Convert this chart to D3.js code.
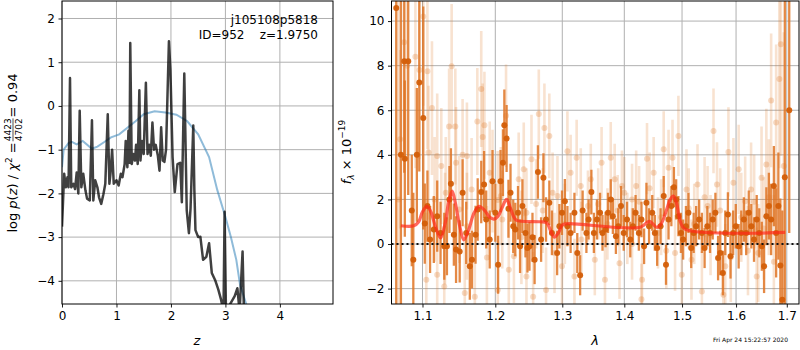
<!DOCTYPE html>
<html><head><meta charset="utf-8">
<script src="https://cdn.jsdelivr.net/npm/d3@7"></script>
<style>body{margin:0;background:#fff}svg{display:block}text{font-family:"DejaVu Sans",sans-serif}</style>
</head><body><svg id="c" width="800" height="350"></svg>
<script>
// ---------- DATA ----------
// left panel: log p(z) (dark) and chi2 curve (blue)
const pzLine = [[0.0,-2.76],[0.04,-1.55],[0.07,-1.86],[0.10,-1.63],[0.12,-1.86],[0.147,0.64],[0.17,-1.86],[0.21,-1.78],[0.24,-1.9],[0.27,-1.52],[0.30,-2.0],[0.325,-0.11],[0.355,-1.86],[0.39,-1.55],[0.43,-1.93],[0.46,-2.12],[0.51,-2.16],[0.55,-0.33],[0.575,-2.16],[0.61,-1.7],[0.65,-1.86],[0.68,-2.09],[0.72,-2.24],[0.76,-2.02],[0.795,-1.78],[0.84,-0.19],[0.87,-1.78],[0.89,-1.55],[0.92,-1.0],[0.95,-1.78],[1.0,-1.7],[1.04,-1.82],[1.08,-1.55],[1.11,-1.63],[1.15,-1.33],[1.17,-0.8],[1.20,-1.4],[1.22,-0.57],[1.24,-1.3],[1.253,1.44],[1.28,-1.33],[1.31,-1.1],[1.34,-1.25],[1.36,-0.89],[1.39,-1.33],[1.42,0.36],[1.44,-1.25],[1.47,-0.8],[1.50,-1.1],[1.54,0.53],[1.57,-1.1],[1.60,-0.89],[1.63,-1.14],[1.66,-0.38],[1.69,-1.0],[1.72,-0.89],[1.76,-1.14],[1.79,-1.48],[1.82,-0.49],[1.85,-1.25],[1.88,-1.28],[1.91,-1.0],[1.963,1.48],[1.99,0.83],[2.03,-1.17],[2.07,-1.97],[2.12,-1.33],[2.17,-1.3],[2.20,-2.2],[2.245,0.74],[2.29,-2.39],[2.33,-2.91],[2.36,-2.34],[2.41,-0.45],[2.43,-1.93],[2.45,-2.84],[2.50,-3.0],[2.54,-2.99],[2.59,-3.52],[2.65,-3.45],[2.70,-3.14],[2.75,-3.82],[2.81,-3.98],[2.87,-4.2],[2.92,-4.43],[2.965,-4.7],[2.985,-2.42],[3.01,-4.7],[3.17,-4.35],[3.22,-4.17],[3.26,-4.7],[3.315,-3.33],[3.34,-4.7]];
const chiLine = [[0.0,-1.4],[0.03,-1.0],[0.12,-0.85],[0.18,-0.82],[0.27,-0.88],[0.38,-0.8],[0.55,-0.98],[0.65,-0.93],[0.77,-0.83],[0.9,-0.72],[1.05,-0.65],[1.2,-0.5],[1.35,-0.35],[1.5,-0.19],[1.7,-0.12],[1.9,-0.15],[2.1,-0.2],[2.3,-0.35],[2.5,-0.65],[2.7,-1.17],[2.85,-1.92],[3.0,-2.54],[3.1,-3.0],[3.2,-3.52],[3.27,-4.1],[3.4,-4.6]];
const leftXTicks = [0,1,2,3,4];
const leftYTicks = [-4,-3,-2,-1,0,1,2];
// right panel: [lambda, flux, err]
const specBest = [[1.066,10.59,20],[1.072,4.0,12],[1.0763,8.2,5],[1.077,3.83,3.5],[1.0814,8.2,6],[1.086,1.5,2.5],[1.088,-0.7,3],[1.0926,4.0,3],[1.0958,7.25,4],[1.101,5.65,5],[1.103,0.92,1.8],[1.1065,1.7,1.6],[1.110,0.2,1.5],[1.115,0.65,1.5],[1.1195,1.25,1.6],[1.124,0.5,1.4],[1.129,-0.1,1.5],[1.1326,-0.1,1.3],[1.136,2.0,1.5],[1.138,2.7,1.6],[1.142,0.42,1.4],[1.145,-0.25,1.5],[1.150,-0.33,1.4],[1.154,2.3,1.5],[1.159,0.5,1.4],[1.164,-1.0,1.5],[1.167,-0.7,1.3],[1.172,0.42,1.3],[1.175,1.55,1.4],[1.18,2.33,1.4],[1.184,2.67,1.5],[1.187,1.1,1.3],[1.192,0.2,1.3],[1.196,2.82,1.4],[1.2,1.4,1.3],[1.204,-0.93,1.3],[1.2075,2.82,1.4],[1.211,3.65,1.5],[1.213,5.33,1.6],[1.2163,4.73,1.5],[1.219,1.58,1.3],[1.222,2.3,1.3],[1.226,0.8,1.2],[1.229,0.65,1.2],[1.233,1.4,1.2],[1.236,-0.1,1.2],[1.2395,1.7,1.2],[1.244,0.5,1.1],[1.247,-0.18,1.1],[1.250,-0.1,1.1],[1.2545,0.3,1.1],[1.2577,-0.7,1.1],[1.2627,3.23,1.2],[1.2675,0.2,1.0],[1.271,2.97,1.1],[1.275,1.1,1.0],[1.28,1.85,1.0],[1.284,0.5,1.0],[1.292,-0.4,1.0],[1.2955,0.8,1.0],[1.2995,1.4,1.0],[1.304,1.92,1.0],[1.308,0.8,0.9],[1.313,0.5,0.9],[1.319,1.4,0.9],[1.3235,-0.4,0.9],[1.328,-1.4,0.9],[1.332,1.5,0.9],[1.338,0.5,0.9],[1.3415,1.1,0.9],[1.346,2.33,1.0],[1.35,0.5,0.9],[1.355,1.1,0.9],[1.36,1.4,0.9],[1.364,0.5,0.8],[1.369,0.65,0.8],[1.373,1.4,0.9],[1.3775,2.0,0.9],[1.381,1.25,0.8],[1.386,0.35,0.8],[1.390,0.8,0.8],[1.3945,1.7,0.9],[1.399,0.5,0.8],[1.4045,1.1,0.8],[1.41,0.2,0.8],[1.4145,0.8,0.8],[1.419,1.4,0.8],[1.4245,0.5,0.8],[1.429,1.1,0.8],[1.4335,-0.1,0.8],[1.4375,1.85,0.9],[1.442,0.8,0.8],[1.4475,1.4,0.8],[1.452,0.5,0.8],[1.456,-0.18,0.8],[1.462,0.8,0.8],[1.4675,2.15,0.9],[1.4715,-0.93,0.9],[1.476,1.1,0.9],[1.481,1.7,0.9],[1.4855,2.55,0.9],[1.4895,2.0,0.9],[1.4935,1.25,0.9],[1.498,0.5,0.9],[1.502,0.2,0.9],[1.507,0.8,0.9],[1.5115,1.4,0.9],[1.5165,-0.18,0.9],[1.521,0.5,0.9],[1.5255,0.8,0.9],[1.531,1.1,0.9],[1.536,0.5,0.9],[1.541,-0.18,0.9],[1.546,0.8,0.9],[1.551,0.5,0.9],[1.556,1.1,0.9],[1.561,1.4,0.9],[1.566,-0.63,1.0],[1.570,-0.4,1.0],[1.575,-1.3,1.0],[1.5795,0.5,1.0],[1.5845,1.32,1.0],[1.5895,-0.55,1.0],[1.5945,0.5,1.0],[1.5995,0.8,1.0],[1.605,-0.1,1.0],[1.610,0.5,1.0],[1.615,1.1,1.0],[1.6195,0.5,1.0],[1.6245,1.4,1.0],[1.6295,0.8,1.0],[1.6347,0.2,1.0],[1.64,1.1,1.1],[1.645,0.5,1.1],[1.650,-0.1,1.1],[1.6545,-1.0,1.2],[1.659,1.25,1.3],[1.664,1.7,1.5],[1.6685,1.1,1.6],[1.674,2.6,1.8],[1.6785,0.5,2.0],[1.683,1.7,2.4],[1.687,-0.96,3.0],[1.691,-2.5,4.0],[1.696,3.0,9],[1.705,6.0,5.5]];
const specOther = [[1.069,2.0,9],[1.071,4.7,4],[1.076,9.05,5],[1.080,8.0,4],[1.0907,8.4,5],[1.096,7.8,4],[1.101,10.2,4],[1.105,-1.6,3],[1.1065,7.75,3.5],[1.108,4.1,3],[1.1125,6.1,3],[1.116,2.0,2.8],[1.1195,3.95,2.8],[1.1195,-1.38,2.5],[1.125,3.5,2.6],[1.129,-1.9,2.5],[1.13,0.7,2.5],[1.131,2.3,2.5],[1.1355,5.27,2.6],[1.139,7.97,2.8],[1.144,5.27,2.6],[1.145,3.65,2.5],[1.1495,1.55,2.4],[1.154,4.0,2.5],[1.157,-2.2,2.4],[1.16,0.8,2.4],[1.160,3.95,2.4],[1.1665,2.45,2.3],[1.171,-2.36,2.3],[1.1745,5.5,2.4],[1.18,6.95,2.6],[1.182,4.8,2.4],[1.1845,5.33,2.4],[1.188,-0.6,2.3],[1.192,3.2,2.3],[1.196,2.82,2.3],[1.2035,1.97,2.2],[1.2035,-2.06,2.2],[1.208,2.15,2.2],[1.21,1.1,2.2],[1.2155,5.75,2.3],[1.2195,-1.15,2.2],[1.227,-0.55,2.1],[1.234,2.9,2.1],[1.238,0.3,2.1],[1.2415,3.35,2.1],[1.2455,1.4,2.0],[1.2455,-1.46,2.0],[1.253,3.8,2.0],[1.2555,-2.36,2.0],[1.26,1.8,2.0],[1.264,5.83,2.0],[1.27,1.5,1.9],[1.2725,5.2,2.0],[1.275,-2.06,1.9],[1.28,4.85,1.9],[1.285,2.3,1.8],[1.288,-0.4,1.8],[1.2925,2.15,1.8],[1.2995,-1.0,1.8],[1.304,0.9,1.8],[1.308,4.16,1.8],[1.313,3.2,1.7],[1.319,-1.46,1.7],[1.3225,3.87,1.7],[1.329,2.6,1.7],[1.33,0.2,1.7],[1.3405,1.7,1.6],[1.345,2.9,1.6],[1.3515,-0.7,1.6],[1.357,1.8,1.6],[1.3625,3.65,1.6],[1.368,-1.6,1.6],[1.372,0.9,1.6],[1.3775,3.87,1.6],[1.384,2.9,1.6],[1.389,1.5,1.6],[1.392,-0.86,1.6],[1.396,2.6,1.6],[1.4,2.3,1.6],[1.405,0.7,1.6],[1.413,2.0,1.6],[1.413,0.0,1.6],[1.42,2.6,1.6],[1.425,1.9,1.6],[1.429,-2.48,1.6],[1.430,-1.6,1.6],[1.4385,3.83,1.6],[1.443,2.5,1.6],[1.450,3.2,1.6],[1.4575,0.5,1.6],[1.463,1.2,1.7],[1.4675,4.25,1.7],[1.472,-0.3,1.7],[1.476,3.42,1.7],[1.483,3.87,1.7],[1.4875,-0.4,1.7],[1.4935,4.85,1.8],[1.4995,-1.38,1.8],[1.508,2.45,1.8],[1.512,1.6,1.8],[1.517,-0.7,1.8],[1.522,0.9,1.8],[1.528,2.67,1.8],[1.536,-2.13,1.8],[1.541,2.1,1.8],[1.5465,1.7,1.8],[1.552,0.4,1.8],[1.5575,5.07,1.9],[1.564,2.67,1.9],[1.570,1.5,1.9],[1.576,-2.28,1.9],[1.5795,-1.0,1.9],[1.5855,4.13,2.0],[1.59,-0.6,2.0],[1.595,2.75,2.0],[1.605,3.35,2.0],[1.61,1.2,2.0],[1.6175,1.92,2.0],[1.623,-0.3,2.0],[1.629,2.45,2.1],[1.635,1.9,2.1],[1.64,-1.46,2.2],[1.643,-0.4,2.2],[1.6495,2.97,2.3],[1.654,0.7,2.3],[1.659,3.57,2.5],[1.664,2.1,2.6],[1.6685,6.44,3.0],[1.674,-0.8,3.0],[1.6785,5.45,3.5],[1.685,7.4,4],[1.688,8.96,5],[1.694,3.5,6]];
const modelLine = [[1.072,0.82],[1.0886,0.82],[1.095,1.0],[1.100,1.45],[1.106,1.69],[1.111,1.45],[1.117,0.8],[1.124,0.27],[1.130,0.9],[1.135,1.9],[1.1396,2.37],[1.144,1.85],[1.150,0.8],[1.1557,0.19],[1.162,0.6],[1.170,1.4],[1.177,1.69],[1.185,1.5],[1.192,1.2],[1.198,1.12],[1.204,1.25],[1.210,1.65],[1.2163,2.0],[1.222,1.6],[1.227,1.2],[1.231,1.06],[1.2657,1.0],[1.276,0.95],[1.282,0.6],[1.2876,0.31],[1.294,0.5],[1.300,0.85],[1.3067,0.91],[1.4266,0.75],[1.4425,1.02],[1.4555,0.75],[1.463,0.9],[1.472,1.5],[1.479,2.0],[1.4846,2.15],[1.490,1.85],[1.497,1.0],[1.5055,0.67],[1.6967,0.52]];
const rightXTicks = [1.1,1.2,1.3,1.4,1.5,1.6,1.7];
const rightYTicks = [-2,0,2,4,6,8,10];

// ---------- DRAW ----------
const svg = d3.select("#c");
const fmt = d => String(d).replace("-", "\u2212");
const L = {x0:62, x1:333, y0:1, y1:304};
const R = {x0:391.5, x1:799, y0:1, y1:304};
const xl = d3.scaleLinear().domain([0,4.975]).range([L.x0,L.x1]);
const yl = d3.scaleLinear().domain([-4.53,2.4]).range([L.y1,L.y0]);
const xr = d3.scaleLog().domain([1.06,1.725]).range([R.x0,R.x1]);
const yr = d3.scaleLinear().domain([-2.69,10.9]).range([R.y1,R.y0]);

const defs = svg.append("defs");
[["clipL",L],["clipR",R]].forEach(([id,b])=>{
  defs.append("clipPath").attr("id",id).append("rect")
    .attr("x",b.x0).attr("y",b.y0).attr("width",b.x1-b.x0).attr("height",b.y1-b.y0);
});

function panel(b, xs, ys, xt, yt){
  const g = svg.append("g");
  g.selectAll(".gx").data(xt).join("line").attr("x1",d=>xs(d)).attr("x2",d=>xs(d))
    .attr("y1",b.y0).attr("y2",b.y1).attr("stroke","#b0b0b0").attr("stroke-width",1);
  g.selectAll(".gy").data(yt).join("line").attr("class","gy").attr("y1",d=>ys(d)).attr("y2",d=>ys(d))
    .attr("x1",b.x0).attr("x2",b.x1).attr("stroke","#b0b0b0").attr("stroke-width",1);
  return g;
}
function axes(b, xs, ys, xt, yt, xfmt){
  const ax = svg.append("g").attr("transform",`translate(0,${b.y1})`)
    .call(d3.axisBottom(xs).tickValues(xt).tickSize(3.5).tickPadding(3.5).tickFormat(xfmt));
  const ay = svg.append("g").attr("transform",`translate(${b.x0},0)`)
    .call(d3.axisLeft(ys).tickValues(yt).tickSize(3.5).tickPadding(3.5).tickFormat(fmt));
  [ax,ay].forEach(a=>{a.select(".domain").remove();
    a.selectAll("text").attr("font-size",12).attr("font-family","DejaVu Sans").attr("fill","#000");
    a.selectAll("line").attr("stroke","#000").attr("stroke-width",0.9);});
  svg.append("rect").attr("x",b.x0).attr("y",b.y0).attr("width",b.x1-b.x0).attr("height",b.y1-b.y0)
    .attr("fill","none").attr("stroke","#000").attr("stroke-width",1);
}

// Left panel
panel(L, xl, yl, leftXTicks, leftYTicks);
const lc = svg.append("g").attr("clip-path","url(#clipL)");
const lineL = d3.line().x(d=>xl(d[0])).y(d=>yl(d[1]));
lc.append("path").datum(chiLine).attr("d",lineL.curve(d3.curveLinear)).attr("fill","none")
  .attr("stroke","#1f77b4").attr("stroke-opacity",0.5).attr("stroke-width",2);
lc.append("path").datum(pzLine).attr("d",lineL).attr("fill","none")
  .attr("stroke","#000").attr("stroke-opacity",0.75).attr("stroke-width",2.5).attr("stroke-linejoin","round");
axes(L, xl, yl, leftXTicks, leftYTicks, d=>String(d));

svg.append("text").attr("x",318).attr("y",24).attr("text-anchor","end").attr("font-size",12).text("j105108p5818");
svg.append("text").attr("x",318).attr("y",39).attr("text-anchor","end").attr("font-size",12)
  .attr("xml:space","preserve").style("white-space","pre").text("ID=952    z=1.9750");

svg.append("text").attr("x",197).attr("y",345).attr("text-anchor","middle").attr("font-size",13)
  .attr("font-style","italic").text("z");

// left y label with fraction
{
  const g = svg.append("g").attr("transform","translate(17,153) rotate(-90)");
  const t1 = g.append("text").attr("x",0).attr("y",0).attr("font-size",13);
  t1.append("tspan").text("log ");
  t1.append("tspan").attr("font-style","italic").text("p");
  t1.append("tspan").text("(");
  t1.append("tspan").attr("font-style","italic").text("z");
  t1.append("tspan").text(") / ");
  t1.append("tspan").attr("font-style","italic").text("\u03C7");
  t1.append("tspan").attr("font-size",9).attr("dy",-5).text("2");
  t1.append("tspan").attr("dy",5).text(" = ");
  const w1 = t1.node().getComputedTextLength();
  const num = g.append("text").attr("font-size",9).attr("y",-6).text("4423");
  const den = g.append("text").attr("font-size",9).attr("y",4.5).text("4702");
  const fw = Math.max(num.node().getComputedTextLength(), den.node().getComputedTextLength());
  num.attr("x", w1 + 1); den.attr("x", w1 + 1);
  g.append("line").attr("x1",w1+1).attr("x2",w1+1+fw).attr("y1",-4).attr("y2",-4).attr("stroke","#000").attr("stroke-width",0.7);
  const t2 = g.append("text").attr("x",w1+fw+2).attr("y",0).attr("font-size",13).text(" = 0.94");
  const total = w1+fw+2+t2.node().getComputedTextLength();
  g.selectAll("text,line").each(function(){
    const s = d3.select(this);
    if (this.tagName==="line"){ s.attr("x1",+s.attr("x1")-total/2).attr("x2",+s.attr("x2")-total/2); }
    else s.attr("x",+s.attr("x")-total/2);
  });
}

// Right panel
panel(R, xr, yr, rightXTicks, rightYTicks);
const rc = svg.append("g").attr("clip-path","url(#clipR)");
function errbars(data, barColor, op, dotColor, mop, w){
  const g = rc.append("g");
  g.selectAll("line").data(data).join("line")
    .attr("x1",d=>xr(d[0])).attr("x2",d=>xr(d[0]))
    .attr("y1",d=>yr(d[1]-d[2])).attr("y2",d=>yr(d[1]+d[2]))
    .attr("stroke",barColor).attr("stroke-opacity",op).attr("stroke-width",w);
  g.selectAll("circle").data(data).join("circle")
    .attr("cx",d=>xr(d[0])).attr("cy",d=>yr(d[1])).attr("r",3)
    .attr("fill",dotColor).attr("fill-opacity",mop);
}
errbars(specOther, "#e07b2a", 0.22, "#e07b2a", 0.28, 2.6);
errbars(specBest, "#df7424", 0.85, "#d35e08", 0.95, 2.3);
const lineR = d3.line().x(d=>xr(d[0])).y(d=>yr(d[1])).curve(d3.curveCatmullRom.alpha(0.5));
rc.append("path").datum(modelLine).attr("d",lineR).attr("fill","none")
  .attr("stroke","#ff2a1a").attr("stroke-opacity",0.7).attr("stroke-width",3.2).attr("stroke-linejoin","round");
rc.append("line").attr("x1",R.x0).attr("x2",R.x1).attr("y1",yr(0)).attr("y2",yr(0))
  .attr("stroke","#111").attr("stroke-width",2).attr("stroke-dasharray","2,3");
axes(R, xr, yr, rightXTicks, rightYTicks, d3.format(".1f"));

svg.append("text").attr("x",595).attr("y",345).attr("text-anchor","middle").attr("font-size",13)
  .attr("font-style","italic").text("\u03BB");
{
  const t = svg.append("text").attr("transform","translate(351,152) rotate(-90)")
    .attr("text-anchor","middle").attr("font-size",13);
  t.append("tspan").attr("font-style","italic").text("f");
  t.append("tspan").attr("font-style","italic").attr("font-size",9).attr("dy",3).text("\u03BB");
  t.append("tspan").attr("dy",-3).text(" \u00D7 10");
  t.append("tspan").attr("font-size",9).attr("dy",-6).text("\u221219");
}
svg.append("text").attr("x",788).attr("y",342).attr("text-anchor","end").attr("font-size",6)
  .text("Fri Apr 24 15:22:57 2020");
</script></body></html>
